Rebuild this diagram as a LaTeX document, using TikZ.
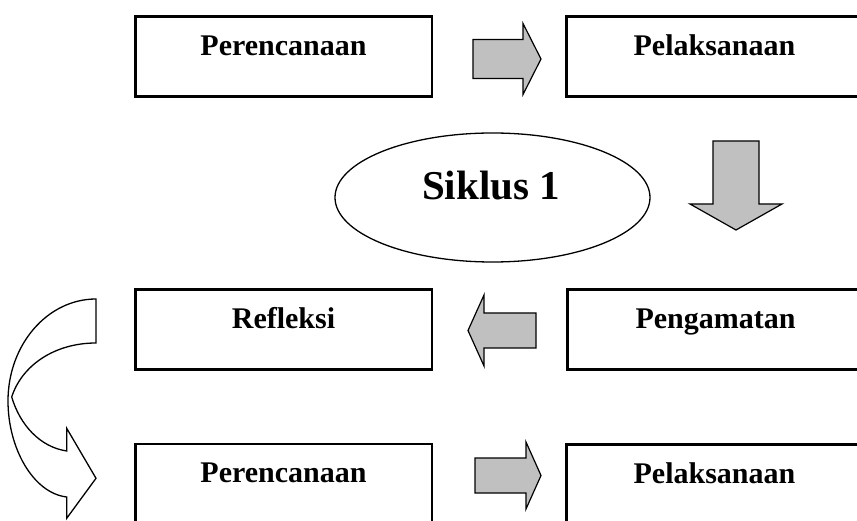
\documentclass[tikz,border=0pt]{standalone}
\usepackage{fontspec}
\setmainfont{Liberation Serif}
\usetikzlibrary{shapes.geometric,calc}
\definecolor{arrowgray}{RGB}{192,192,192}
\tikzset{
  stagebox/.style={draw=black, line width=2.5pt, minimum width=296.5pt, inner sep=0pt,
    text height=39pt, text depth=41pt, anchor=north,
    font=\bfseries\fontsize{30}{36}\selectfont},
  blockarrow/.style={draw=black, line width=1.2pt, fill=arrowgray, line join=miter},
  cyclebubble/.style={ellipse, draw=black, line width=1.3pt, minimum width=315pt,
    minimum height=129pt, inner sep=0pt},
  cyclelabel/.style={anchor=base, inner sep=0pt, font=\bfseries\fontsize{41}{48}\selectfont},
  loopback/.style={draw=black, line width=1.3pt, fill=white, line join=miter}
}
\begin{document}
\begin{tikzpicture}[x=1pt,y=-1pt]
\useasboundingbox (0,0) rectangle (857,521);
\fill[white] (0,0) rectangle (857,521);
\clip (0,0) rectangle (857,521);

% stage boxes
\node[stagebox] (plan1) at (283.5,15.25) {Perencanaan};
\node[stagebox] (act1) at (714.5,15.25) {Pelaksanaan};
\node[stagebox] (refl) at (283.5,288.5) {Refleksi};
\node[stagebox] (obs) at (715.5,288.5) {Pengamatan};
\node[stagebox] (plan2) at (283.5,442.5) {Perencanaan};
\node[stagebox] (act2) at (714.5,443) {Pelaksanaan};

% block arrows
\draw[blockarrow] (473,39.5) -- (523,39.5) -- (523,23.5) -- (541,59) -- (523,94.5) -- (523,78.5) -- (473,78.5) -- cycle;
\draw[blockarrow] (713,141) -- (759,141) -- (759,204) -- (782,204) -- (736,230) -- (690,204) -- (713,204) -- cycle;
\draw[blockarrow] (536,313) -- (484,313) -- (484,295) -- (468,330.5) -- (484,366) -- (484,348) -- (536,348) -- cycle;
\draw[blockarrow] (475,458) -- (526,458) -- (526,442) -- (541,475.5) -- (526,509) -- (526,493) -- (475,493) -- cycle;

% cycle ellipse
\node[cyclebubble] (cyc) at (492.5,197.5) {};
\node[cyclelabel] (cyclbl) at (491,200) {Siklus 1};

% curved loop-back arrow
\draw[loopback] (96,299) .. controls (47.4,299) and (8,344.7) .. (8,401)
  .. controls (8,448) and (33,493) .. (66.7,497)
  -- (66.7,518.3) -- (96,478.3) -- (66.7,428.3) -- (66.7,451)
  .. controls (40,447) and (20,425) .. (11.7,397)
  .. controls (22,365) and (55,343) .. (96,343) -- cycle;
\end{tikzpicture}
\end{document}
